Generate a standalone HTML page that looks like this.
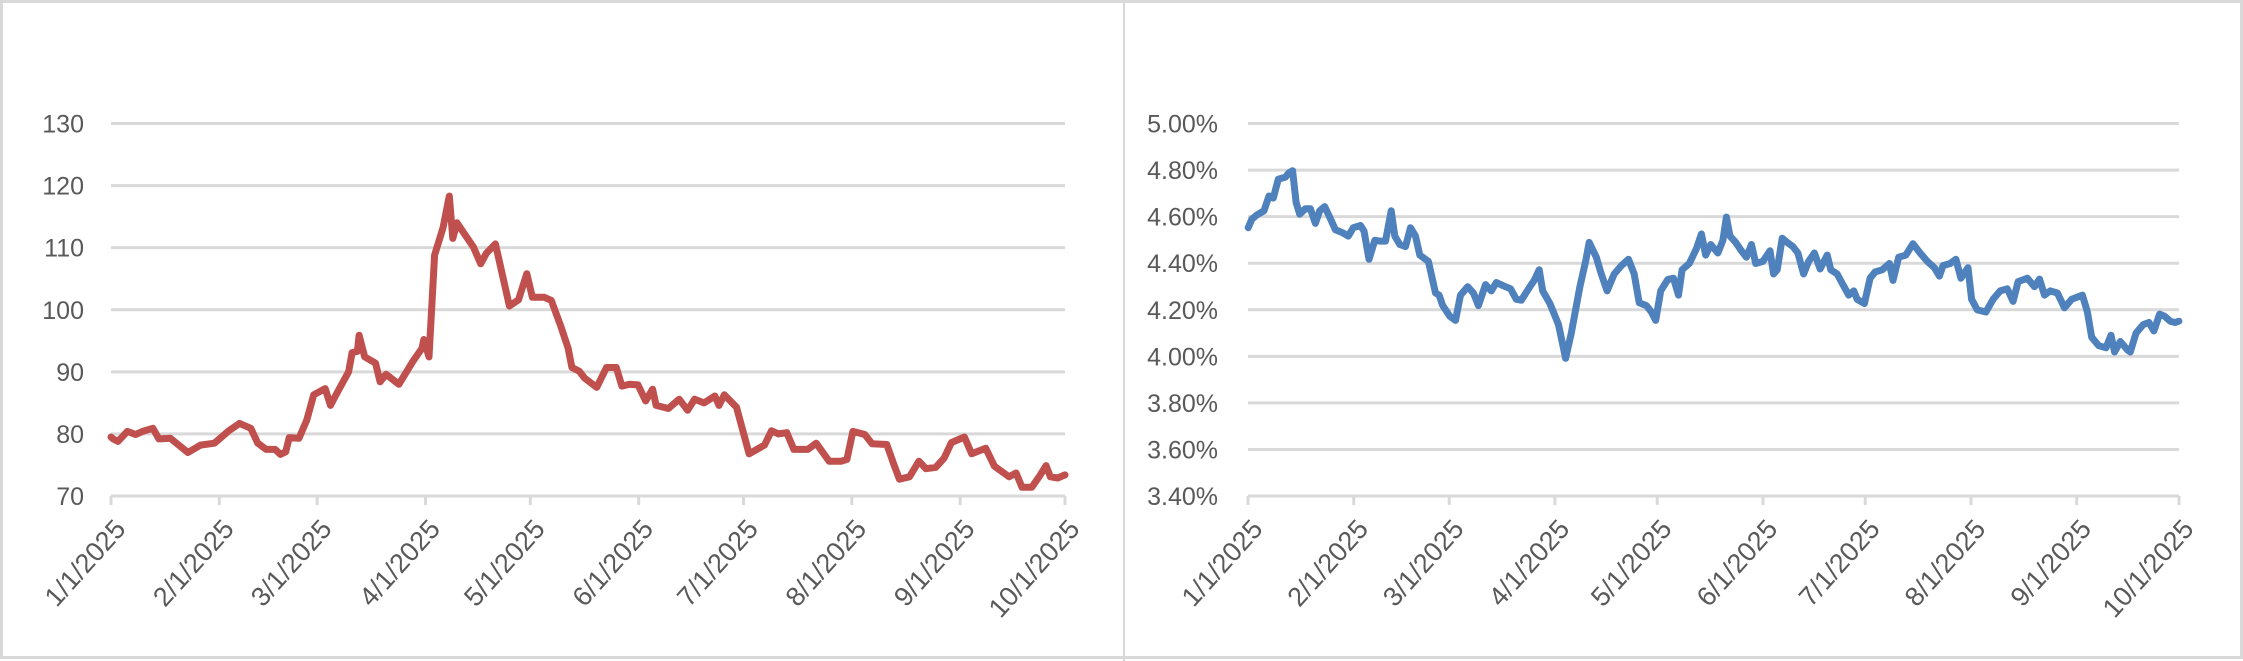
<!DOCTYPE html>
<html><head><meta charset="utf-8"><style>
html,body{margin:0;padding:0;background:#fff;}
svg{display:block;}
text{font-family:"Liberation Sans",sans-serif;fill:#595959;font-size:25px;}
text.x{font-size:27px;}
</style></head><body>
<svg id="s" width="2243" height="661" viewBox="0 0 2243 661" xmlns="http://www.w3.org/2000/svg">
<rect x="1.5" y="1.5" width="2240" height="656" fill="#fff" stroke="#d9d9d9" stroke-width="3"/>
<line x1="1124" y1="0" x2="1124" y2="661" stroke="#d9d9d9" stroke-width="2"/>
<g id="g"></g>
</svg>
<script>
var ns="http://www.w3.org/2000/svg",g=document.getElementById('g');
function el(t,a,txt){var e=document.createElementNS(ns,t);for(var k in a)e.setAttribute(k,a[k]);if(txt)e.textContent=txt;g.appendChild(e);return e;}
var months=[0,31,59,90,120,151,181,212,243,273];
var mlab=["1/1/2025","2/1/2025","3/1/2025","4/1/2025","5/1/2025","6/1/2025","7/1/2025","8/1/2025","9/1/2025","10/1/2025"];
function chart(x0,x1,labels,labX){
  var yt=123.5,yb=496;
  for(var i=0;i<labels.length;i++){
    var y=yb-(yb-yt)*i/(labels.length-1);
    el('line',{x1:x0,x2:x1,y1:y,y2:y,stroke:'#d9d9d9','stroke-width':3});
    el('text',{x:labX,y:y+9,'text-anchor':'end'},labels[i]);
  }
  for(var j=0;j<months.length;j++){
    var x=x0+months[j]/273*(x1-x0);
    el('line',{x1:x,x2:x,y1:yb,y2:yb+9,stroke:'#d9d9d9','stroke-width':3});
    el('text',{'class':'x',x:0,y:0,'text-anchor':'end',transform:'translate('+(x+16)+','+(yb+34)+') rotate(-48)'},mlab[j]);
  }
}
chart(111,1065,["70","80","90","100","110","120","130"],84);
chart(1248,2179,["3.40%","3.60%","3.80%","4.00%","4.20%","4.40%","4.60%","4.80%","5.00%"],1218);
var red=[[0,79.5],[0.6,79.2],[2,78.8],[4.7,80.4],[7,79.9],[9,80.4],[12,80.9],[13.7,79.2],[17,79.3],[22,77],[25.6,78.2],[29.6,78.5],[33.7,80.5],[36.8,81.7],[40,80.9],[42,78.5],[44.4,77.5],[47,77.5],[48.5,76.7],[50,77.1],[51,79.4],[53.8,79.3],[56,82.2],[58,86.3],[61.3,87.3],[62.8,84.6],[64.4,86.3],[68,90],[69,93.1],[70.5,93.3],[71,95.9],[72.6,92.4],[75.7,91.4],[77,88.4],[78.7,89.6],[82.4,88],[86.5,91.8],[89,93.8],[89.5,95.2],[91,92.4],[92.6,108.8],[95,113.2],[96.8,118.3],[97.8,111.5],[99,114],[100.8,112.5],[103.7,110.1],[105.8,107.4],[107.4,109.1],[110,110.6],[112.5,104.4],[114,100.6],[116.6,101.6],[119,105.8],[120.6,102],[124,102],[126,101.5],[128.8,97.2],[130.8,93.8],[131.9,90.7],[134,90.1],[135.5,89],[139,87.5],[141.8,90.7],[144.6,90.7],[146.2,87.7],[148.3,88],[150.8,87.9],[153,85.3],[155,87.2],[156,84.6],[159.5,84.1],[162.6,85.6],[165,83.8],[167,85.6],[169.7,85],[172.8,86.1],[174,84.6],[175.5,86.3],[179,84.3],[182.6,76.8],[187,78.2],[189,80.5],[191,80],[193.4,80.2],[195.4,77.5],[199.4,77.5],[201.8,78.5],[205.5,75.6],[209,75.6],[210.6,75.9],[212.3,80.4],[215.7,79.9],[217.8,78.4],[222,78.3],[224,75.1],[225.6,72.7],[228.5,73.1],[231.2,75.6],[233.2,74.4],[236,74.6],[238.4,76.1],[240.5,78.6],[244.2,79.5],[246.3,76.8],[250.3,77.7],[252.8,74.8],[257,73.1],[259,73.7],[260.7,71.4],[263.5,71.4],[265.6,73.1],[267.6,74.9],[268.8,73.1],[270.9,72.9],[273,73.4]];
var rp=red.map(function(p){return (111+p[0]/273*954).toFixed(1)+','+(496-(p[1]-70)/60*372.5).toFixed(1);}).join(' ');
el('polyline',{points:rp,fill:'none',stroke:'#c0504d','stroke-width':7,'stroke-linejoin':'round','stroke-linecap':'round'});
var blue=[[178,540],[183,520],[190,510],[200,500],[207,465],[213,470],[220,425],[230,420],[235,410],[240,405],[245,480],[250,508],[258,495],[265,495],[272,530],[278,500],[285,490],[292,515],[300,545],[310,552],[318,560],[325,540],[335,535],[340,548],[347,615],[355,570],[362,572],[370,572],[378,500],[383,560],[390,580],[398,585],[405,540],[412,560],[418,605],[430,620],[440,695],[445,700],[450,725],[460,750],[468,760],[475,700],[485,680],[493,695],[500,725],[510,675],[518,690],[525,670],[535,678],[545,685],[553,710],[560,712],[572,680],[578,665],[585,640],[590,690],[600,720],[612,770],[622,850],[630,790],[642,680],[650,620],[655,575],[665,610],[672,650],[680,690],[690,650],[700,630],[710,615],[718,650],[725,718],[735,725],[742,740],[748,760],[755,690],[765,663],[773,660],[780,700],[785,640],[795,625],[805,590],[812,555],[818,605],[825,580],[835,600],[842,570],[847,515],[852,560],[860,575],[868,595],[875,610],[882,580],[888,625],[898,620],[908,595],[913,650],[918,640],[925,565],[932,575],[940,585],[947,600],[955,650],[962,620],[970,600],[978,638],[988,605],[993,640],[1002,650],[1010,675],[1018,700],[1025,690],[1030,710],[1040,720],[1048,660],[1055,645],[1065,640],[1075,625],[1080,665],[1088,610],[1098,605],[1108,578],[1118,600],[1128,620],[1138,635],[1145,655],[1150,630],[1160,625],[1168,615],[1175,660],[1185,635],[1190,710],[1198,735],[1210,740],[1220,710],[1230,690],[1240,685],[1248,715],[1255,668],[1268,660],[1278,680],[1285,662],[1292,700],[1300,690],[1310,695],[1320,730],[1330,710],[1345,700],[1352,740],[1358,800],[1368,820],[1378,825],[1385,795],[1390,835],[1398,810],[1408,830],[1412,835],[1420,790],[1430,770],[1438,765],[1445,785],[1453,745],[1460,750],[1468,762],[1475,765],[1480,762]];
var bp=blue.map(function(p){return (1121+p[0]/1.399).toFixed(1)+','+(p[1]/2.372).toFixed(1);}).join(' ');
el('polyline',{points:bp,fill:'none',stroke:'#4f81bd','stroke-width':7,'stroke-linejoin':'round','stroke-linecap':'round'});
</script>
</body></html>
